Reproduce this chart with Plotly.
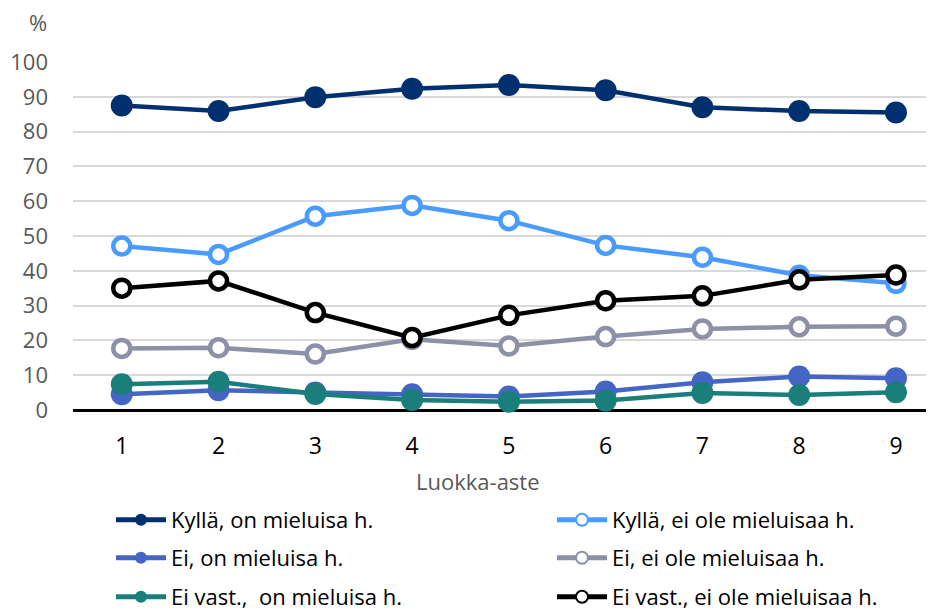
import plotly.graph_objects as go

grades = [1, 2, 3, 4, 5, 6, 7, 8, 9]
y_ticks = [0, 10, 20, 30, 40, 50, 60, 70, 80, 90, 100]

names = [
    "Kyllä, on mieluisa h.",
    "Kyllä, ei ole mieluisaa h.",
    "Ei, on mieluisa h.",
    "Ei, ei ole mieluisaa h.",
    "Ei vast.,  on mieluisa h.",
    "Ei vast., ei ole mieluisaa h.",
]
kylla_on = [87.5, 85.9, 89.9, 92.3, 93.4, 91.9, 87.0, 85.9, 85.5]
kylla_ei = [47.1, 44.7, 55.7, 58.8, 54.4, 47.3, 43.9, 38.7, 36.4]
ei_on = [4.5, 5.7, 5.0, 4.5, 3.9, 5.3, 8.0, 9.6, 9.1]
ei_ei = [17.7, 17.9, 16.1, 20.3, 18.4, 21.1, 23.3, 23.9, 24.1]
eivast_on = [7.4, 8.1, 4.6, 2.9, 2.4, 2.7, 4.9, 4.3, 5.1]
eivast_ei = [35.0, 37.1, 28.0, 20.8, 27.2, 31.4, 32.8, 37.4, 38.8]

series = [kylla_on, kylla_ei, ei_on, ei_ei, eivast_on, eivast_ei]
colors = ["#003070", "#4A9BFF", "#4465C3", "#8D91A8", "#1A7F7A", "#000000"]
hollow = [False, True, False, True, False, True]

FONT = "Open Sans"

# the page body has an 8px margin, so the figure is drawn 8px smaller
W, H = 926, 606
col_px = [103, 544]
row_px = [512, 550, 589]

fig = go.Figure()
legend_layout = {}
for i, (name, vals, col, hol) in enumerate(zip(names, series, colors, hollow)):
    lid = "legend" if i == 0 else f"legend{i + 1}"
    if hol:
        marker = dict(size=17, color="white", line=dict(color=col, width=4.5), symbol="circle")
    else:
        marker = dict(size=22, color=col, line=dict(width=0), symbol="circle")
    fig.add_trace(go.Scatter(
        x=grades, y=vals, name=name, mode="lines+markers",
        line=dict(color=col, width=4.5), marker=marker,
        cliponaxis=False, legend=lid,
    ))
    r, c = divmod(i, 2)
    legend_layout[lid] = dict(
        xref="container", yref="container",
        x=col_px[c] / W, y=1 - row_px[r] / H,
        xanchor="left", yanchor="middle",
        font=dict(family=FONT, size=22, color="#000000"),
        itemsizing="constant", itemwidth=50,
        bgcolor="rgba(0,0,0,0)",
    )

fig.update_layout(
    width=W, height=H,
    margin=dict(l=65, r=0, t=54, b=204, autoexpand=False),
    paper_bgcolor="white", plot_bgcolor="white",
    font=dict(family=FONT, color="#595959"),
    showlegend=True,
    **legend_layout,
    xaxis=dict(
        range=[0.496, 9.393], tickvals=grades, ticktext=[str(g) for g in grades],
        showgrid=False, zeroline=False, showline=False, automargin=False,
        tickfont=dict(family=FONT, size=23, color="#000000"),
        ticks="", ticklabelstandoff=20,
    ),
    yaxis=dict(
        range=[0, 100], tickvals=y_ticks, ticktext=[str(v) for v in y_ticks],
        showgrid=True, gridcolor="#D9D9D9", gridwidth=1.5, automargin=False,
        zeroline=True, zerolinecolor="#000000", zerolinewidth=3,
        showline=False, tickfont=dict(family=FONT, size=22, color="#595959"),
        ticks="", ticklabelstandoff=24,
    ),
    annotations=[
        dict(text="%", xref="paper", yref="paper", x=(38 - 73) / 861, y=(410 - 22) / 348,
             showarrow=False, font=dict(family=FONT, size=22, color="#595959"),
             xanchor="center", yanchor="middle"),
        dict(text="Luokka-aste", xref="paper", yref="paper", x=(478 - 73) / 861, y=(410 - 481) / 348,
             showarrow=False, font=dict(family=FONT, size=22, color="#595959"),
             xanchor="center", yanchor="middle"),
    ],
)
fig.write_html("out.html")
